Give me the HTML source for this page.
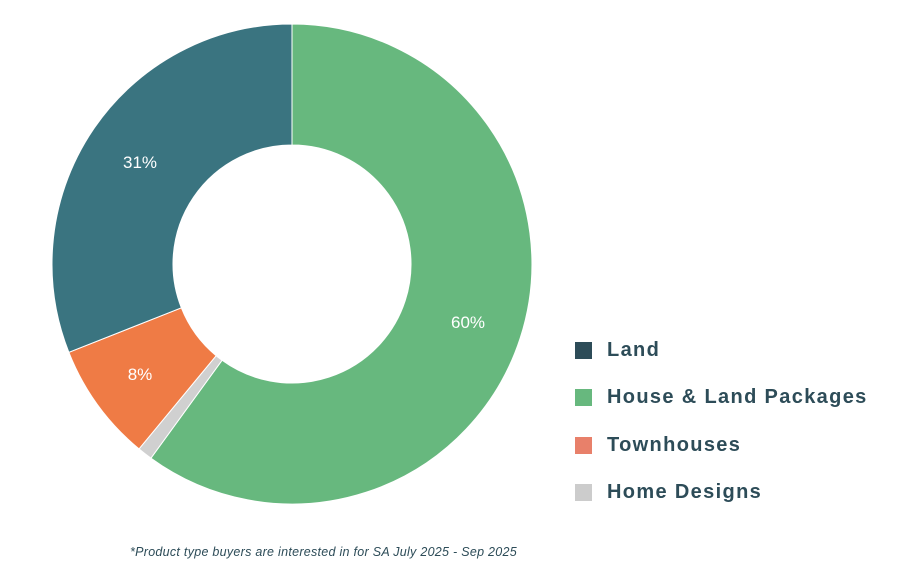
<!DOCTYPE html>
<html><head><meta charset="utf-8"><style>
body{margin:0;background:#fff;width:910px;height:582px;overflow:hidden;font-family:"Liberation Sans",sans-serif;}
.lg{position:absolute;left:575px;font-weight:bold;font-size:20px;color:#2d4c58;letter-spacing:1.35px;}
.lg span{display:inline-block;width:17px;height:17px;vertical-align:-3px;margin-right:15px;}
</style></head><body>
<svg width="910" height="582" style="position:absolute;left:0;top:0">
<g stroke="#fff" stroke-width="1">
<path d="M292,24 A240,240 0 1 1 150.9,458.2 L222.05,360.27 A119,119 0 1 0 292,145 Z" fill="#67b87e"/>
<path d="M150.9,458.2 A240,240 0 0 1 139,448.9 L216.15,355.69 A119,119 0 0 0 222.05,360.27 Z" fill="#d0d0d0"/>
<path d="M139,448.9 A240,240 0 0 1 68.85,352.3 L181.35,307.8 A119,119 0 0 0 216.15,355.69 Z" fill="#ef7b45"/>
<path d="M68.85,352.3 A240,240 0 0 1 292,24 L292,145 A119,119 0 0 0 181.35,307.8 Z" fill="#3a7480"/>
</g>
<g fill="#fff" font-family="Liberation Sans, sans-serif" font-size="17" text-anchor="middle">
<text x="140" y="168">31%</text>
<text x="468" y="328">60%</text>
<text x="140" y="380">8%</text>
</g>
<text x="130" y="556" font-family="Liberation Sans, sans-serif" font-size="12.5" letter-spacing="0.28" font-style="italic" fill="#2d4c58">*Product type buyers are interested in for SA July 2025 - Sep 2025</text>
</svg>
<div class="lg" style="top:339px"><span style="background:#2d4c58"></span>Land</div>
<div class="lg" style="top:386px"><span style="background:#67b87e"></span>House &amp; Land Packages</div>
<div class="lg" style="top:434px"><span style="background:#e8806a"></span>Townhouses</div>
<div class="lg" style="top:481px"><span style="background:#cccccc"></span>Home Designs</div>
</body></html>
